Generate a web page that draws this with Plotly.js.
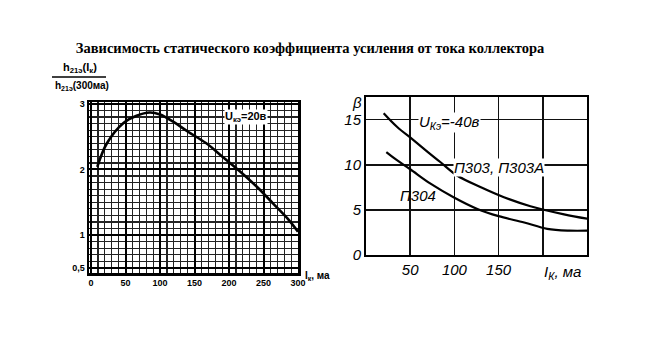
<!DOCTYPE html>
<html>
<head>
<meta charset="utf-8">
<script src="https://cdn.plot.ly/plotly-3.0.1.min.js"></script>
<style>html,body{margin:0;padding:0;background:#fff}#chart{width:646px;height:362px}</style>
</head>
<body>
<div id="chart"></div>
<script>
// Left chart: h21э(Iк)/h21э(300ма) vs Iк, ма
var leftIk = [9, 23, 47, 66, 85, 100, 119, 140, 167, 190, 216, 240, 264, 285, 300];
var leftRatio = [2.04, 2.40, 2.71, 2.82, 2.87, 2.84, 2.73, 2.58, 2.40, 2.20, 1.97, 1.74, 1.48, 1.25, 1.05];
var leftXTicks = [0, 50, 100, 150, 200, 250, 300];
var leftXText = ["0", "50", "100", "150", "200", "250", "300"];
var leftYTicks = [0.5, 1, 2, 3];
var leftYText = ["0,5", "1", "2", "3"];

// Right chart: β vs Iк, ма
var p303Ik = [20, 35, 54, 70, 84, 103, 130, 156, 186, 224, 251];
var p303Beta = [15.7, 14.2, 12.7, 11.4, 10.3, 8.8, 7.5, 6.4, 5.4, 4.5, 4.0];
var p304Ik = [23, 35, 50, 73, 99, 126, 150, 179, 205, 230, 251];
var p304Beta = [11.4, 10.5, 9.5, 7.9, 6.4, 5.1, 4.3, 3.6, 2.9, 2.7, 2.7];
var rightXTicks = [50, 100, 150, 200];
var rightXText = ["50", "100", "150", ""];
var rightYTicks = [0, 5, 10, 15];
var rightYText = ["0", "5", "10", "15"];
var rightXRange = [0, 250];
var rightYRange = [0, 17.5];

var traces = [
  {x: leftIk, y: leftRatio, type: 'scatter', mode: 'lines', line: {color: '#000', width: 2.6, shape: 'spline', smoothing: 1.0}, xaxis: 'x', yaxis: 'y', hoverinfo: 'skip'},
  {x: p303Ik, y: p303Beta, type: 'scatter', mode: 'lines', line: {color: '#000', width: 2.2, shape: 'spline'}, xaxis: 'x2', yaxis: 'y2', hoverinfo: 'skip'},
  {x: p304Ik, y: p304Beta, type: 'scatter', mode: 'lines', line: {color: '#000', width: 2.2, shape: 'spline'}, xaxis: 'x2', yaxis: 'y2', hoverinfo: 'skip'}
];

var leftFont = {family: 'Liberation Sans, Arial, sans-serif', size: 9, color: '#000', weight: 'bold'};
var rightFont = {family: 'Liberation Sans, Arial, sans-serif', size: 15, color: '#000', style: 'italic'};

var layout = {
  width: 646, height: 362,
  margin: {l: 0, r: 0, t: 0, b: 0},
  paper_bgcolor: '#fff', plot_bgcolor: '#fff',
  showlegend: false,
  title: {
    text: 'Зависимость статического коэффициента усиления от тока коллектора',
    font: {family: 'Liberation Serif, Times New Roman, serif', size: 14.5, color: '#000', weight: 'bold'},
    x: 0.48, xanchor: 'center', y: 1 - 48 / 362, yanchor: 'middle'
  },
  xaxis: {
    domain: [89 / 646, 298 / 646], range: [-3, 300],
    tickmode: 'array', tickvals: leftXTicks, ticktext: leftXText,
    tickfont: leftFont, ticks: '', ticklen: 0,
    showgrid: true, gridcolor: '#000', gridwidth: 2,
    minor: {tickmode: 'linear', tick0: 0, dtick: 10, showgrid: true, gridcolor: '#222', gridwidth: 1.2},
    showline: true, linecolor: '#000', linewidth: 2.5, mirror: true, zeroline: false,
    anchor: 'y', fixedrange: true
  },
  yaxis: {
    domain: [(362 - 273) / 362, (362 - 102) / 362], range: [0.42, 3.03],
    tickmode: 'array', tickvals: leftYTicks, ticktext: leftYText,
    tickfont: leftFont, ticks: '', ticklen: 0,
    showgrid: true, gridcolor: '#000', gridwidth: 2,
    minor: {tickmode: 'linear', tick0: 0, dtick: 0.1, showgrid: true, gridcolor: '#222', gridwidth: 1.2},
    showline: true, linecolor: '#000', linewidth: 2.5, mirror: true, zeroline: false,
    anchor: 'x', fixedrange: true
  },
  xaxis2: {
    domain: [366 / 646, 587 / 646], range: rightXRange,
    tickmode: 'array', tickvals: rightXTicks, ticktext: rightXText,
    tickfont: rightFont, ticks: '', ticklen: 4,
    showgrid: true, gridcolor: '#111', gridwidth: 1.6,
    showline: true, linecolor: '#000', linewidth: 2, mirror: true, zeroline: false,
    anchor: 'y2', fixedrange: true
  },
  yaxis2: {
    domain: [(362 - 255) / 362, (362 - 97) / 362], range: rightYRange,
    tickmode: 'array', tickvals: rightYTicks, ticktext: rightYText,
    tickfont: rightFont, ticks: '', ticklen: 4,
    showgrid: true, gridcolor: '#111', gridwidth: 1.6,
    showline: true, linecolor: '#000', linewidth: 2, mirror: true, zeroline: false,
    anchor: 'x2', fixedrange: true
  },
  shapes: [
    {type: 'line', xref: 'paper', yref: 'paper', x0: 52 / 646, x1: 106 / 646, y0: 1 - 77 / 362, y1: 1 - 77 / 362, line: {color: '#000', width: 1.5}}
  ],
  annotations: [
    {xref: 'paper', yref: 'paper', x: 80 / 646, y: 1 - 68 / 362, xanchor: 'center', yanchor: 'middle', showarrow: false,
     text: 'h<sub>21э</sub>(I<sub>к</sub>)', font: {family: 'Liberation Sans, Arial, sans-serif', size: 11, color: '#000', weight: 'bold'}},
    {xref: 'paper', yref: 'paper', x: 82 / 646, y: 1 - 86 / 362, xanchor: 'center', yanchor: 'middle', showarrow: false,
     text: 'h<sub>21э</sub>(300ма)', font: {family: 'Liberation Sans, Arial, sans-serif', size: 10, color: '#000', weight: 'bold'}},
    {xref: 'x', yref: 'y', x: 225, y: 2.80, xanchor: 'center', yanchor: 'middle', showarrow: false,
     bgcolor: '#fff', borderpad: 0,
     text: 'U<sub>кэ</sub>=20в', font: {family: 'Liberation Sans, Arial, sans-serif', size: 11, color: '#000', weight: 'bold'}},
    {xref: 'paper', yref: 'paper', x: 303 / 646, y: 1 - 276 / 362, xanchor: 'left', yanchor: 'middle', showarrow: false,
     text: 'I<sub>к</sub>, ма', font: {family: 'Liberation Sans, Arial, sans-serif', size: 10, color: '#000', weight: 'bold'}},
    {xref: 'paper', yref: 'paper', x: 357 / 646, y: 1 - 102 / 362, xanchor: 'center', yanchor: 'middle', showarrow: false,
     text: 'β', font: {family: 'Liberation Sans, Arial, sans-serif', size: 15, color: '#000', style: 'italic'}},
    {xref: 'x2', yref: 'y2', x: 95, y: 14.7, xanchor: 'center', yanchor: 'middle', showarrow: false,
     bgcolor: '#fff', borderpad: 0,
     text: 'U<sub>Кэ</sub>=-40в', font: {family: 'Liberation Sans, Arial, sans-serif', size: 15, color: '#000', style: 'italic'}},
    {xref: 'x2', yref: 'y2', x: 151, y: 9.7, xanchor: 'center', yanchor: 'middle', showarrow: false,
     bgcolor: '#fff', borderpad: 0,
     text: 'П303, П303А', font: {family: 'Liberation Sans, Arial, sans-serif', size: 15, color: '#000', style: 'italic'}},
    {xref: 'x2', yref: 'y2', x: 59, y: 6.6, xanchor: 'center', yanchor: 'middle', showarrow: false,
     text: 'П304', font: {family: 'Liberation Sans, Arial, sans-serif', size: 15, color: '#000', style: 'italic'}},
    {xref: 'paper', yref: 'paper', x: 562 / 646, y: 1 - 272 / 362, xanchor: 'center', yanchor: 'middle', showarrow: false,
     text: 'I<sub>К</sub>, ма', font: {family: 'Liberation Sans, Arial, sans-serif', size: 15, color: '#000', style: 'italic'}}
  ]
};

Plotly.newPlot('chart', traces, layout, {staticPlot: true, displayModeBar: false});
</script>
</body>
</html>
